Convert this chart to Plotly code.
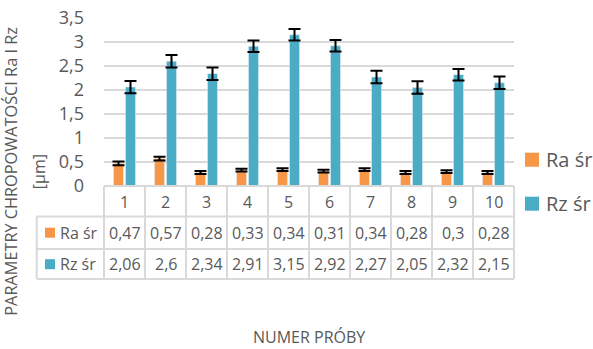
import plotly.graph_objects as go

samples = [1, 2, 3, 4, 5, 6, 7, 8, 9, 10]
ra = [0.47, 0.57, 0.28, 0.33, 0.34, 0.31, 0.34, 0.28, 0.30, 0.28]
rz = [2.06, 2.60, 2.34, 2.91, 3.15, 2.92, 2.27, 2.05, 2.32, 2.15]
ra_err = [0.04, 0.04, 0.03, 0.03, 0.03, 0.03, 0.03, 0.03, 0.03, 0.03]
rz_err = [0.13, 0.13, 0.13, 0.12, 0.12, 0.12, 0.13, 0.13, 0.12, 0.13]
series_names = ["Ra śr", "Rz śr"]
y_tickvals = [0, 0.5, 1, 1.5, 2, 2.5, 3, 3.5]
y_ticktext = ["0", "0,5", "1", "1,5", "2", "2,5", "3", "3,5"]
y_title_1 = "PARAMETRY CHROPOWATOŚCI Ra I Rz"
y_title_2 = "[µm]"
x_title = "NUMER PRÓBY"

ORANGE = "#F79646"
BLUE = "#4BACC6"
TXT = "#595959"
GRID = "#D9D9D9"
FONT = "Open Sans"


def fmt(v):
    s = ("%.2f" % v).rstrip("0").rstrip(".")
    return s.replace(".", ",")


fig = go.Figure()
fig.add_bar(x=samples, y=ra, name=series_names[0], marker_color=ORANGE,
            error_y=dict(type="data", array=ra_err, color="black", thickness=2, width=6),
            showlegend=False)
fig.add_bar(x=samples, y=rz, name=series_names[1], marker_color=BLUE,
            error_y=dict(type="data", array=rz_err, color="black", thickness=2, width=6),
            showlegend=False)

# geometry helpers (paper coords)
PLOT_H = 168.0
PLOT_W = 410.0
PLOT_L = 104.0
PLOT_B = 186.3


def py(px):
    return (PLOT_B - px) / PLOT_H


def pxx(px):
    return (px - PLOT_L) / PLOT_W


row_lines = [py(187.3), py(216.7), py(249.3), py(279.3)]
row_centers = [py(202), py(233), py(264.5)]
left_col = pxx(36.7)

shapes = []
line = dict(color=GRID, width=2)
# horizontal lines
shapes.append(dict(type="line", xref="paper", yref="paper", x0=0, x1=1,
                   y0=0, y1=0, line=line, layer="above"))
for yv in row_lines[1:]:
    shapes.append(dict(type="line", xref="paper", yref="paper", x0=left_col, x1=1,
                       y0=yv, y1=yv, line=line))
# vertical lines at category boundaries
n = len(samples)
for i in range(n + 1):
    xv = i / n
    shapes.append(dict(type="line", xref="paper", yref="paper", x0=xv, x1=xv,
                       y0=0, y1=row_lines[3], line=line))
shapes.append(dict(type="line", xref="paper", yref="paper", x0=left_col, x1=left_col,
                   y0=row_lines[1], y1=row_lines[3], line=line))

# table legend keys
for k, col in enumerate([ORANGE, BLUE]):
    yc = row_centers[k + 1]
    shapes.append(dict(type="rect", xref="paper", yref="paper",
                       x0=pxx(45), x1=pxx(55), y0=yc - 5 / PLOT_H, y1=yc + 5 / PLOT_H,
                       fillcolor=col, line=dict(width=0)))
# right legend keys
leg_y = [py(160), py(204)]
for k, col in enumerate([ORANGE, BLUE]):
    shapes.append(dict(type="rect", xref="paper", yref="paper",
                       x0=pxx(525), x1=pxx(539), y0=leg_y[k] - 7 / PLOT_H, y1=leg_y[k] + 7 / PLOT_H,
                       fillcolor=col, line=dict(width=0)))

ann = []
tf = dict(family=FONT, size=16, color=TXT)
for s in samples:
    ann.append(dict(x=s, xref="x", y=row_centers[0], yref="paper", text=str(s),
                    showarrow=False, font=tf, xanchor="center", yanchor="middle"))
for s, v in zip(samples, ra):
    ann.append(dict(x=s, xref="x", y=row_centers[1], yref="paper", text=fmt(v),
                    showarrow=False, font=tf, xanchor="center", yanchor="middle"))
for s, v in zip(samples, rz):
    ann.append(dict(x=s, xref="x", y=row_centers[2], yref="paper", text=fmt(v),
                    showarrow=False, font=tf, xanchor="center", yanchor="middle"))
for k in range(2):
    ann.append(dict(x=pxx(58), xref="paper", y=row_centers[k + 1], yref="paper",
                    text=series_names[k], showarrow=False, font=tf,
                    xanchor="left", yanchor="middle"))
    ann.append(dict(x=pxx(544), xref="paper", y=leg_y[k], yref="paper",
                    text=series_names[k], showarrow=False,
                    font=dict(family=FONT, size=20, color=TXT),
                    xanchor="left", yanchor="middle"))
# axis titles
ann.append(dict(x=pxx(11), xref="paper", y=py(172), yref="paper", text=y_title_1,
                textangle=-90, showarrow=False, font=dict(family=FONT, size=16.3, color=TXT),
                xanchor="center", yanchor="middle"))
ann.append(dict(x=pxx(38.5), xref="paper", y=py(172), yref="paper", text=y_title_2,
                textangle=-90, showarrow=False, font=dict(family=FONT, size=16, color=TXT),
                xanchor="center", yanchor="middle"))
ann.append(dict(x=0.5, xref="paper", y=py(337), yref="paper", text=x_title,
                showarrow=False, font=dict(family=FONT, size=16, color=TXT),
                xanchor="center", yanchor="middle"))

fig.update_layout(
    width=593, height=349,
    margin=dict(l=104, r=79, t=18, b=163, autoexpand=False),
    paper_bgcolor="white", plot_bgcolor="white",
    barmode="group", bargap=0.415, bargroupgap=0.17,
    shapes=shapes, annotations=ann,
    xaxis=dict(range=[0.5, 10.5], showticklabels=False, showgrid=False,
               zeroline=False, showline=False, ticks=""),
    yaxis=dict(range=[0, 3.5], tickvals=y_tickvals, ticktext=y_ticktext,
               showgrid=True, gridcolor=GRID, gridwidth=1.5, zeroline=False,
               showline=False, ticks="", ticklabelstandoff=19,
               tickfont=dict(family=FONT, size=18, color=TXT)),
)

fig.write_html("out.html", config={"displayModeBar": False},
               post_script="document.body.style.margin='0';document.body.style.overflow='hidden';")
